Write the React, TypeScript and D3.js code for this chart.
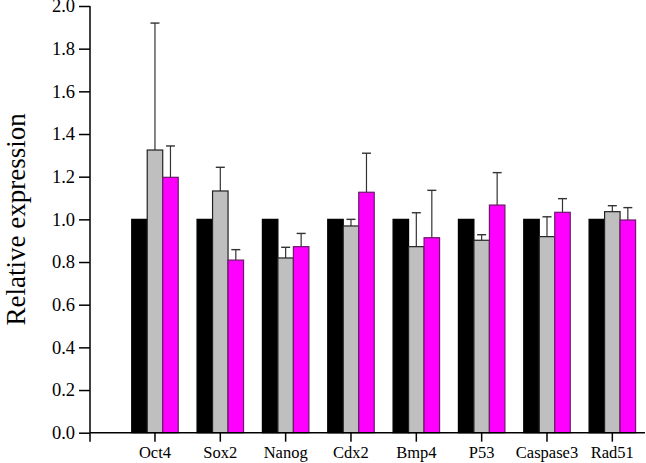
import React, { useEffect, useRef } from 'react';
import * as d3 from 'd3';

const genes = ['Oct4', 'Sox2', 'Nanog', 'Cdx2', 'Bmp4', 'P53', 'Caspase3', 'Rad51'];
const seriesNames = ['control', 'groupB', 'groupC'];
const controlValues = [1, 1, 1, 1, 1, 1, 1, 1];
const grayValues = [1.325, 1.133, 0.819, 0.969, 0.872, 0.902, 0.919, 1.036];
const grayErrTop = [1.92, 1.244, 0.869, 1.0, 1.031, 0.928, 1.012, 1.064];
const magentaValues = [1.197, 0.809, 0.872, 1.127, 0.914, 1.067, 1.033, 0.997];
const magentaErrTop = [1.344, 0.858, 0.934, 1.31, 1.136, 1.219, 1.097, 1.055];
const yTicks = [0, 0.2, 0.4, 0.6, 0.8, 1.0, 1.2, 1.4, 1.6, 1.8, 2.0];

const App = () => {
  const ref = useRef<SVGSVGElement>(null);

  useEffect(() => {
    document.body.style.margin = '0';
    const width = 646;
    const height = 463;
    const svg = d3.select(ref.current).attr('width', width).attr('height', height);
    svg.selectAll('*').remove();

    const font = '"Liberation Serif", "Times New Roman", serif';
    const axisX = 90;

    const x = d3.scaleBand<string>().domain(genes).range([122.3, 645]).padding(0);
    const groupW = 46.5;
    const inner = d3.scaleBand<string>().domain(seriesNames).range([0, groupW]).padding(0);
    const y = d3.scaleLinear().domain([0, 2]).range([432.7, 6]);

    const data = genes.map((g, i) => ({
      gene: g,
      bars: [
        { s: 'control', v: controlValues[i], err: null as number | null, fill: '#000000', stroke: '#000000' },
        { s: 'groupB', v: grayValues[i], err: grayErrTop[i], fill: '#bfbfbf', stroke: '#222222' },
        { s: 'groupC', v: magentaValues[i], err: magentaErrTop[i], fill: '#ff00ff', stroke: '#6a1a6a' },
      ],
    }));

    const groups = svg.selectAll('.grp')
      .data(data)
      .enter()
      .append('g')
      .attr('transform', d => `translate(${x(d.gene)! + x.bandwidth() / 2 - groupW / 2},0)`);

    // error bars (upper only)
    groups.selectAll('.err')
      .data(d => d.bars.filter(b => b.err !== null))
      .enter()
      .append('g')
      .each(function (b) {
        const cx = inner(b.s)! + inner.bandwidth() / 2;
        const g = d3.select(this);
        g.append('line')
          .attr('x1', cx).attr('x2', cx)
          .attr('y1', y(b.v)).attr('y2', y(b.err as number))
          .attr('stroke', '#333').attr('stroke-width', 1.2);
        g.append('line')
          .attr('x1', cx - 4.5).attr('x2', cx + 4.5)
          .attr('y1', y(b.err as number)).attr('y2', y(b.err as number))
          .attr('stroke', '#333').attr('stroke-width', 1.4);
      });

    groups.selectAll('.bar')
      .data(d => d.bars)
      .enter()
      .append('rect')
      .attr('x', b => inner(b.s)!)
      .attr('y', b => y(b.v))
      .attr('width', inner.bandwidth())
      .attr('height', b => y(0) - y(b.v))
      .attr('fill', b => b.fill)
      .attr('stroke', b => b.stroke)
      .attr('stroke-width', 1.2);

    // Y axis
    const yAxis = svg.append('g')
      .attr('transform', `translate(${axisX},0)`)
      .call(d3.axisLeft(y).tickValues(yTicks).tickFormat(d3.format('.1f')).tickSize(11).tickPadding(4));
    yAxis.select('.domain').attr('stroke', '#000').attr('stroke-width', 1.5).attr('d', `M0,${y(0)}V${y(2)}`);
    yAxis.selectAll('.tick line').attr('stroke', '#000').attr('stroke-width', 1.5);
    yAxis.selectAll('.tick text')
      .attr('font-family', font).attr('font-size', 18.5).attr('fill', '#000');

    // X axis
    const xAxis = svg.append('g')
      .attr('transform', `translate(0,${y(0)})`)
      .call(d3.axisBottom(x).tickSize(9).tickPadding(5).tickSizeOuter(0));
    xAxis.select('.domain').attr('stroke', '#000').attr('stroke-width', 1.5).attr('d', `M${axisX},0H645`);
    xAxis.selectAll('.tick line').attr('stroke', '#000').attr('stroke-width', 1.5);
    xAxis.selectAll('.tick text')
      .attr('font-family', font).attr('font-size', 16.5).attr('fill', '#000');
    xAxis.append('line')
      .attr('x1', axisX).attr('x2', axisX).attr('y1', 0).attr('y2', 9)
      .attr('stroke', '#000').attr('stroke-width', 1.5);

    svg.append('text')
      .attr('transform', `translate(25,${(y(0.4) + y(1.6)) / 2}) rotate(-90)`)
      .attr('text-anchor', 'middle')
      .attr('font-family', font)
      .attr('font-size', 27)
      .attr('fill', '#000')
      .text('Relative expression');
  }, []);

  return <svg ref={ref} style={{ display: 'block' }} />;
};

export default App;
